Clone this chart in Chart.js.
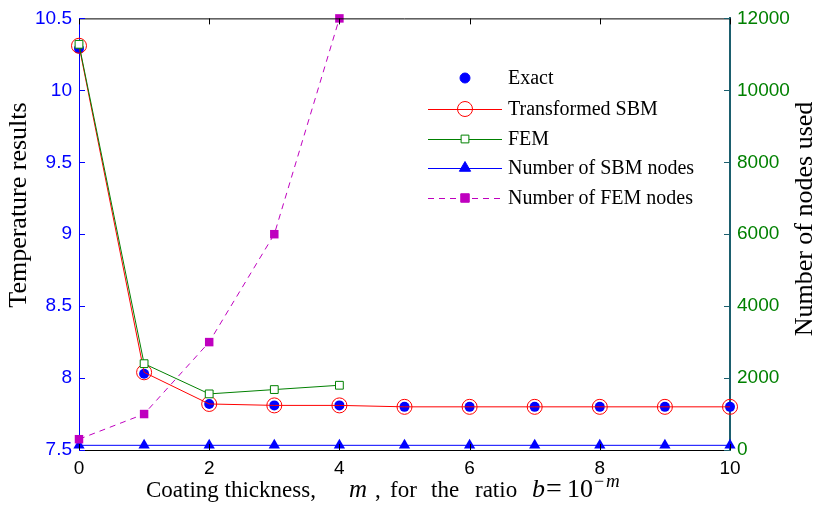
<!DOCTYPE html>
<html>
<head>
<meta charset="utf-8">
<script src="https://cdn.jsdelivr.net/npm/chart.js@4.4.0/dist/chart.umd.min.js"></script>
<style>
  html, body { margin: 0; padding: 0; background: #fff; }
  #box { width: 820px; height: 508px; }
</style>
</head>
<body>
<div id="box"><canvas id="myChart" width="820" height="508"></canvas></div>
<script>
// coating thickness m (x axis)
var espessura = [0, 1, 2, 3, 4, 5, 6, 7, 8, 9, 10];
// temperature results (left axis)
var exata = [10.29, 8.03, 7.82, 7.81, 7.81, 7.80, 7.80, 7.80, 7.80, 7.80, 7.80];
var sbm = [10.31, 8.04, 7.82, 7.81, 7.81, 7.80, 7.80, 7.80, 7.80, 7.80, 7.80];
var fem = [10.32, 8.10, 7.89, 7.92, 7.95];
// number of nodes (right axis)
var nosSbm = [130, 130, 130, 130, 130, 130, 130, 130, 130, 130, 130];
var nosFem = [300, 1000, 3000, 6000, 12000];
var ticksTemp = [7.5, 8, 8.5, 9, 9.5, 10, 10.5];
var ticksNos = [0, 2000, 4000, 6000, 8000, 10000, 12000];
var ticksX = [0, 2, 4, 6, 8, 10];
var nomes = ["Exact", "Transformed SBM", "FEM", "Number of SBM nodes", "Number of FEM nodes"];

function pares(ys) {
  var out = [];
  for (var i = 0; i < ys.length; i++) {
    out.push({ x: espessura[i], y: ys[i] });
  }
  return out;
}

var azul = "#0000ff";
var vermelho = "#ff0000";
var verde = "#008000";
var magenta = "#bf00bf";
var teal = "#1b5f6e";
var serif = "'Liberation Serif', 'Times New Roman', serif";
var sans = "'Liberation Sans', Arial, sans-serif";

var data = {
  datasets: [
    {
      label: nomes[2],
      data: pares(fem),
      yAxisID: "y",
      borderColor: verde,
      borderWidth: 1,
      pointStyle: "rect",
      pointRadius: 5.5,
      pointBackgroundColor: "#ffffff",
      pointBorderColor: verde,
      pointBorderWidth: 1,
      order: 0,
      clip: false,
    },
    {
      label: nomes[1],
      data: pares(sbm),
      yAxisID: "y",
      borderColor: vermelho,
      borderWidth: 1,
      pointStyle: "circle",
      pointRadius: 7.5,
      pointBackgroundColor: "rgba(0,0,0,0)",
      pointBorderColor: vermelho,
      pointBorderWidth: 1,
      order: 1,
      clip: false,
    },
    {
      label: nomes[0],
      data: pares(exata),
      yAxisID: "y",
      showLine: false,
      pointStyle: "circle",
      pointRadius: 5,
      pointBackgroundColor: azul,
      pointBorderColor: azul,
      pointBorderWidth: 0,
      order: 2,
      clip: false,
    },
    {
      label: nomes[4],
      data: pares(nosFem),
      yAxisID: "y1",
      borderColor: magenta,
      borderWidth: 1,
      borderDash: [6, 5],
      pointStyle: "rect",
      pointRadius: 6,
      pointBackgroundColor: magenta,
      pointBorderColor: magenta,
      pointBorderWidth: 0,
      order: 3,
      clip: false,
    },
    {
      label: nomes[3],
      data: pares(nosSbm),
      yAxisID: "y1",
      borderColor: azul,
      borderWidth: 1,
      pointStyle: "triangle",
      pointRadius: 6.5,
      pointBackgroundColor: azul,
      pointBorderColor: azul,
      pointBorderWidth: 0,
      order: 4,
      clip: false,
    },
  ],
};

// legend entries, same order as nomes
var legenda = [
  { linha: null, dash: [], estilo: "circle", raio: 5, fundo: azul, borda: azul },
  { linha: vermelho, dash: [], estilo: "circle", raio: 7.5, fundo: "rgba(0,0,0,0)", borda: vermelho },
  { linha: verde, dash: [], estilo: "rect", raio: 5.5, fundo: "#ffffff", borda: verde },
  { linha: azul, dash: [], estilo: "triangle", raio: 6.5, fundo: azul, borda: azul },
  { linha: magenta, dash: [6, 5], estilo: "rect", raio: 6, fundo: magenta, borda: magenta },
];

var extras = {
  id: "extras",
  afterDraw: function (chart) {
    var c = chart.ctx;
    var a = chart.chartArea;
    var sx = chart.scales.x;
    var sy = chart.scales.y;
    var sy1 = chart.scales.y1;
    c.save();

    // top frame line
    c.strokeStyle = "#000000";
    c.lineWidth = 1;
    c.beginPath();
    c.moveTo(a.left, a.top + 0.5);
    c.lineTo(a.right, a.top + 0.5);
    c.stroke();

    // inward ticks
    c.beginPath();
    ticksX.forEach(function (v) {
      var px = Math.round(sx.getPixelForValue(v)) + 0.5;
      c.moveTo(px, a.bottom);
      c.lineTo(px, a.bottom - 6);
      c.moveTo(px, a.top);
      c.lineTo(px, a.top + 6);
    });
    c.stroke();
    c.strokeStyle = azul;
    c.beginPath();
    ticksTemp.forEach(function (v) {
      var py = Math.round(sy.getPixelForValue(v)) + 0.5;
      c.moveTo(a.left, py);
      c.lineTo(a.left + 6, py);
    });
    c.stroke();
    c.strokeStyle = teal;
    c.beginPath();
    ticksNos.forEach(function (v) {
      var py = Math.round(sy1.getPixelForValue(v)) + 0.5;
      c.moveTo(a.right, py);
      c.lineTo(a.right - 6, py);
    });
    c.stroke();

    // legend
    var x0 = 428, x1 = 502, xm = 465, xt = 508;
    var ys = [78, 109, 139, 168, 198];
    c.font = "20px " + serif;
    c.textBaseline = "middle";
    c.textAlign = "left";
    legenda.forEach(function (e, i) {
      var y = ys[i];
      if (e.linha) {
        c.strokeStyle = e.linha;
        c.lineWidth = 1;
        c.setLineDash(e.dash);
        c.beginPath();
        c.moveTo(x0, y + 0.5);
        c.lineTo(x1, y + 0.5);
        c.stroke();
        c.setLineDash([]);
      }
      c.fillStyle = e.fundo;
      c.strokeStyle = e.borda;
      c.lineWidth = 1;
      Chart.helpers.drawPoint(c, { pointStyle: e.estilo, radius: e.raio, rotation: 0, borderWidth: 1 }, xm, y);
      c.fillStyle = "#000000";
      c.fillText(nomes[i], xt, y + 1);
    });

    // axis titles
    c.fillStyle = "#000000";
    c.textAlign = "center";
    c.font = "26px " + serif;
    c.save();
    c.translate(19, 205);
    c.rotate(-Math.PI / 2);
    c.fillText("Temperature results", 0, 0);
    c.restore();
    c.save();
    c.translate(805, 219);
    c.rotate(-Math.PI / 2);
    c.fillText("Number of nodes used", 0, 0);
    c.restore();

    // x title with math parts
    var base = 497;
    c.textAlign = "left";
    c.textBaseline = "alphabetic";
    var partes = [
      { t: "Coating thickness,", f: "23px " + serif, x: 146, dy: 0 },
      { t: "m", f: "italic 25px " + serif, x: 349, dy: 0 },
      { t: ",", f: "23px " + serif, x: 375, dy: 0 },
      { t: "for", f: "23px " + serif, x: 390, dy: 0 },
      { t: "the", f: "23px " + serif, x: 431, dy: 0 },
      { t: "ratio", f: "23px " + serif, x: 475, dy: 0 },
      { t: "b", f: "italic 26px " + serif, x: 532, dy: 0 },
      { t: "=", f: "28px " + serif, x: 546, dy: 0 },
      { t: "10", f: "26px " + serif, x: 567, dy: 0 },
      { t: "\u2212", f: "18px " + serif, x: 594, dy: -10 },
      { t: "m", f: "italic 19px " + serif, x: 606, dy: -10 },
    ];
    partes.forEach(function (p) {
      c.font = p.f;
      c.fillText(p.t, p.x, base + p.dy);
    });

    c.restore();
  },
};

var ctx = document.getElementById("myChart");
var config = {
  type: "line",
  data: data,
  options: {
    responsive: false,
    animation: false,
    devicePixelRatio: 1,
    layout: { padding: { top: 15, left: 0, right: 0, bottom: 0 } },
    plugins: {
      legend: { display: false },
      tooltip: { enabled: false },
    },
    scales: {
      x: {
        type: "linear",
        position: "bottom",
        min: 0,
        max: 10,
        grid: { display: false, drawTicks: false },
        border: { display: true, color: "#000000", width: 1 },
        ticks: {
          stepSize: 2,
          color: "#000000",
          padding: 7,
          maxRotation: 0,
          font: { family: sans, size: 19 },
        },
        afterFit: function (s) { s.height = 58; },
      },
      y: {
        type: "linear",
        position: "left",
        min: 7.5,
        max: 10.5,
        grid: { display: false, drawTicks: false },
        border: { display: true, color: azul, width: 1 },
        ticks: {
          stepSize: 0.5,
          color: azul,
          padding: 7,
          font: { family: sans, size: 19 },
          callback: function (v) { return String(v); },
        },
        afterFit: function (s) { s.width = 79; },
      },
      y1: {
        type: "linear",
        position: "right",
        min: 0,
        max: 12000,
        grid: { display: false, drawTicks: false },
        border: { display: true, color: teal, width: 2 },
        ticks: {
          stepSize: 2000,
          color: verde,
          padding: 7,
          font: { family: sans, size: 19 },
          callback: function (v) { return String(v); },
        },
        afterFit: function (s) { s.width = 90; },
      },
    },
  },
  plugins: [extras],
};

var myChart = new Chart(ctx, config);
</script>
</body>
</html>
